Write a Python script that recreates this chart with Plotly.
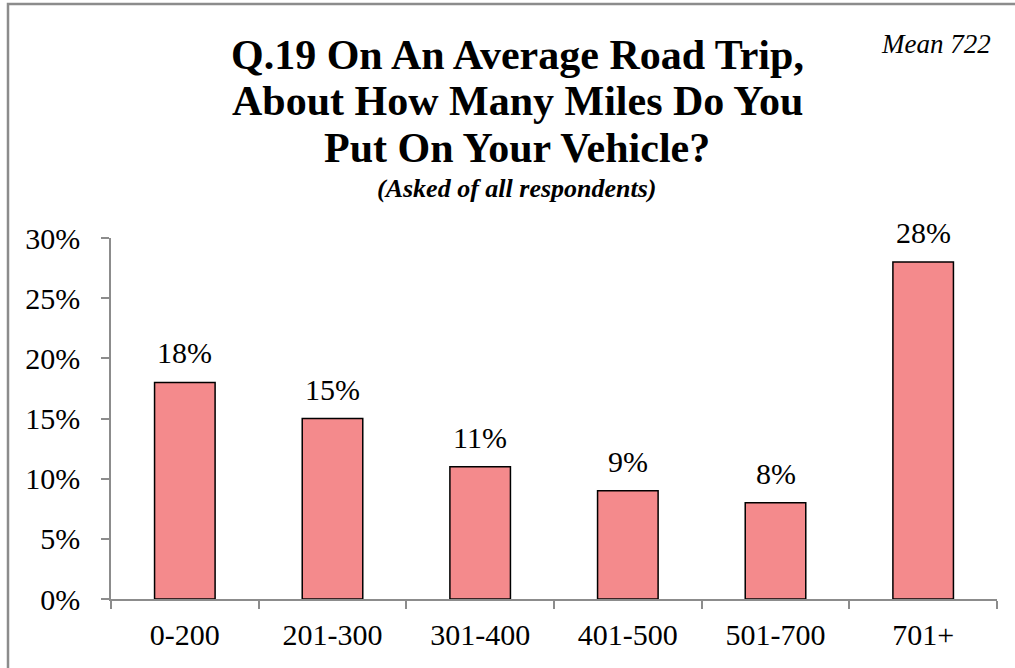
import plotly.graph_objects as go

categories = ["0-200", "201-300", "301-400", "401-500", "501-700", "701+"]
values = [18, 15, 11, 9, 8, 28]
y_ticks = [0, 5, 10, 15, 20, 25, 30]
y_tick_labels = ["0%", "5%", "10%", "15%", "20%", "25%", "30%"]
title_lines = ["Q.19 On An Average Road Trip,", "About How Many Miles Do You", "Put On Your Vehicle?"]
subtitle = "(Asked of all respondents)"
mean_note = "Mean 722"

W, H = 1015, 668
# desired plot area in page pixels (body margin is removed below)
PL, PR, PT, PB = 111, 997, 238, 599
L, T = PL, PT
R = W - PR
B = H - PB
PW, PH = PR - PL, PB - PT

def px(x):  # page pixel -> paper x
    return (x - PL) / PW

def py(y):  # page pixel -> paper y
    return (PB - y) / PH

SERIF = "Liberation Serif"
AXC = "#8c8c8c"

fig = go.Figure()
fig.add_trace(go.Bar(
    x=categories, y=values,
    marker=dict(color="#F48A8C", line=dict(color="#000000", width=1.5)),
    hoverinfo="skip",
))

annotations = []
for c, v in zip(categories, values):
    annotations.append(dict(x=c, y=v, xref="x", yref="y", text=f"{v}%", showarrow=False,
                            yanchor="bottom", yshift=11,
                            font=dict(family=SERIF, size=30, color="#000")))

for line, yc in zip(title_lines, [55, 101, 148]):
    annotations.append(dict(x=px(517), y=py(yc), xref="paper", yref="paper", text=f"<b>{line}</b>",
                            showarrow=False, xanchor="center", yanchor="middle",
                            font=dict(family=SERIF, size=42, color="#000")))
annotations.append(dict(x=px(517), y=py(188), xref="paper", yref="paper", text=f"<b><i>{subtitle}</i></b>",
                        showarrow=False, xanchor="center", yanchor="middle",
                        font=dict(family=SERIF, size=26, color="#000")))
annotations.append(dict(x=px(936), y=py(44), xref="paper", yref="paper", text=f"<i>{mean_note}</i>",
                        showarrow=False, xanchor="center", yanchor="middle",
                        font=dict(family=SERIF, size=27, color="#000")))

fig.update_layout(
    width=W, height=H,
    margin=dict(l=L, r=R, t=T, b=B, pad=0),
    paper_bgcolor="white", plot_bgcolor="white",
    showlegend=False,
    bargap=0.59,
    annotations=annotations,
    shapes=[dict(type="rect", xref="paper", yref="paper",
                 x0=px(8), x1=px(1030), y0=py(690), y1=py(4),
                 line=dict(color="#8c8c8c", width=2.5), layer="below")],
    xaxis=dict(
        showline=True, linecolor=AXC, linewidth=1.5,
        ticks="outside", ticklen=8, tickcolor=AXC, tickwidth=1.5,
        tickson="boundaries", showgrid=False,
        tickfont=dict(family=SERIF, size=30, color="#000"),
        ticklabelstandoff=8,
    ),
    yaxis=dict(
        range=[0, 30], tickmode="array", tickvals=y_ticks, ticktext=y_tick_labels,
        showline=True, linecolor=AXC, linewidth=1.5,
        ticks="outside", ticklen=8, tickcolor=AXC, tickwidth=1.5,
        showgrid=False, zeroline=False,
        tickfont=dict(family=SERIF, size=30, color="#000"),
        ticklabelstandoff=15,
    ),
)

fig.write_html("out.html",
               config={"displayModeBar": False},
               post_script="document.body.style.margin='0px';document.body.style.overflow='hidden';")
